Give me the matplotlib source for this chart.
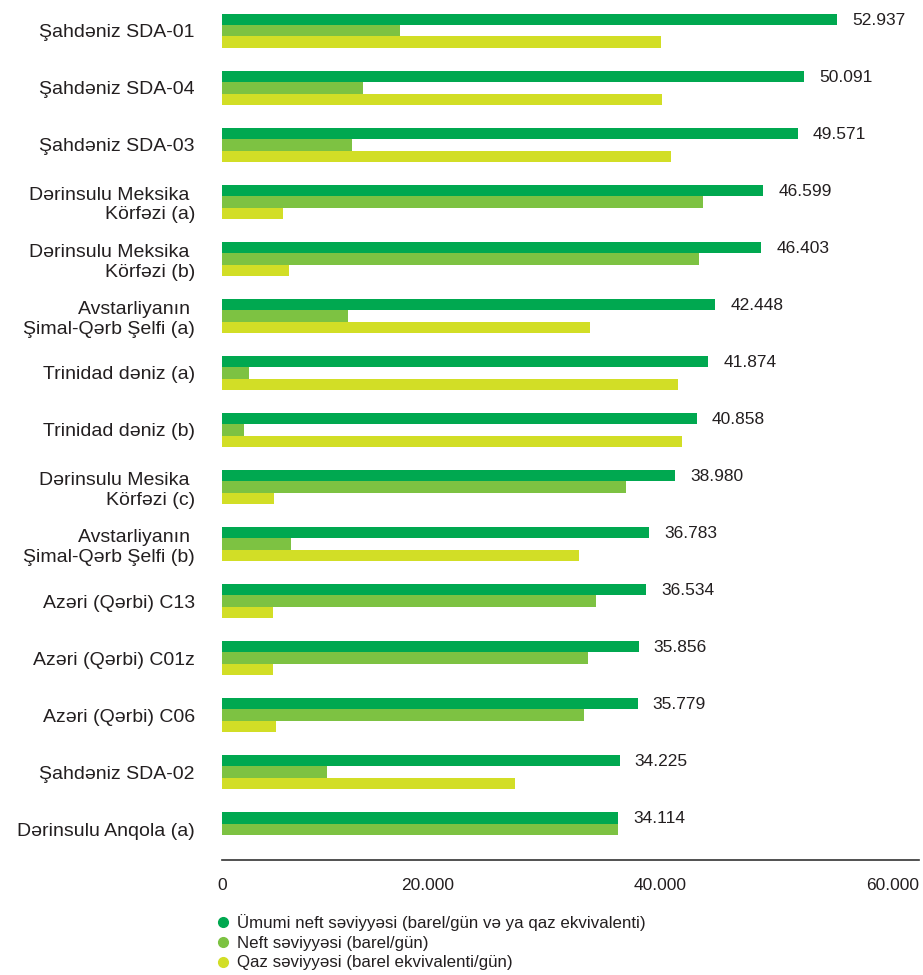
import matplotlib.pyplot as plt
from matplotlib.lines import Line2D

categories = [
    "Şahdəniz SDA-01", "Şahdəniz SDA-04", "Şahdəniz SDA-03",
    "Dərinsulu Meksika \nKörfəzi (a)", "Dərinsulu Meksika \nKörfəzi (b)",
    "Avstarliyanın \nŞimal-Qərb Şelfi (a)", "Trinidad dəniz (a)", "Trinidad dəniz (b)",
    "Dərinsulu Mesika \nKörfəzi (c)", "Avstarliyanın \nŞimal-Qərb Şelfi (b)",
    "Azəri (Qərbi) C13", "Azəri (Qərbi) C01z", "Azəri (Qərbi) C06",
    "Şahdəniz SDA-02", "Dərinsulu Anqola (a)",
]
total = [52937, 50091, 49571, 46599, 46403, 42448, 41874, 40858, 38980,
         36783, 36534, 35856, 35779, 34225, 34114]
oil = [15300, 12150, 11200, 41400, 41050, 10850, 2320, 1900, 34750,
       5950, 32200, 31500, 31150, 9050, 34114]
gas = [37750, 37900, 38650, 5250, 5750, 31700, 39250, 39600, 4450,
       30750, 4400, 4400, 4650, 25250, 0]
xticks = [0, 20000, 40000, 60000]
legend_labels = [
    "Ümumi neft səviyyəsi (barel/gün və ya qaz ekvivalenti)",
    "Neft səviyyəsi (barel/gün)",
    "Qaz səviyyəsi (barel ekvivalenti/gün)",
]

c_total = "#00a850"
c_oil = "#7dc242"
c_gas = "#d2de26"
txt = "#231f20"

plt.rcParams["font.family"] = ["Liberation Sans", "DejaVu Sans"]

fig = plt.figure(figsize=(9.23, 9.75), dpi=100)
ax = fig.add_axes([222 / 923, 115 / 975, 697 / 923, 860 / 975])

y = list(range(len(categories)))
h = 0.2
ax.barh([i - h for i in y], total, height=h, color=c_total)
ax.barh(y, oil, height=h, color=c_oil)
ax.barh([i + h for i in y], gas, height=h, color=c_gas)

for i, v in enumerate(total):
    ax.text(v + 1300, i - h + 0.02, f"{v:,}".replace(",", "."), va="center",
            ha="left", fontsize=12.5, color=txt)

ax.set_xlim(0, 60000)
ax.set_ylim(len(categories) - 0.46, -0.54)
ax.set_yticks(y)
ax.set_yticklabels(categories, fontsize=14, color=txt, ha="right")
ax.tick_params(axis="y", length=0, pad=19.5)
ax.set_xticks(xticks)
ax.set_xticklabels([f"{t:,}".replace(",", ".") for t in xticks], fontsize=12.5, color=txt)
for lab in ax.get_xticklabels()[1:]:
    lab.set_ha("right")
ax.tick_params(axis="x", length=0, pad=13)

for s in ["top", "right", "left"]:
    ax.spines[s].set_visible(False)
ax.spines["bottom"].set_color("#333333")
ax.spines["bottom"].set_linewidth(1.2)

handles = [Line2D([], [], marker="o", ls="", color=c, markersize=7)
           for c in (c_total, c_oil, c_gas)]
fig.legend(handles, legend_labels, loc="upper left", bbox_to_anchor=(216 / 923, 61 / 975),
           frameon=False, fontsize=12.2, handlelength=0.8, handletextpad=0.45,
           labelspacing=0.28, borderpad=0, borderaxespad=0, labelcolor=txt)

fig.savefig("out.png", dpi=100)
